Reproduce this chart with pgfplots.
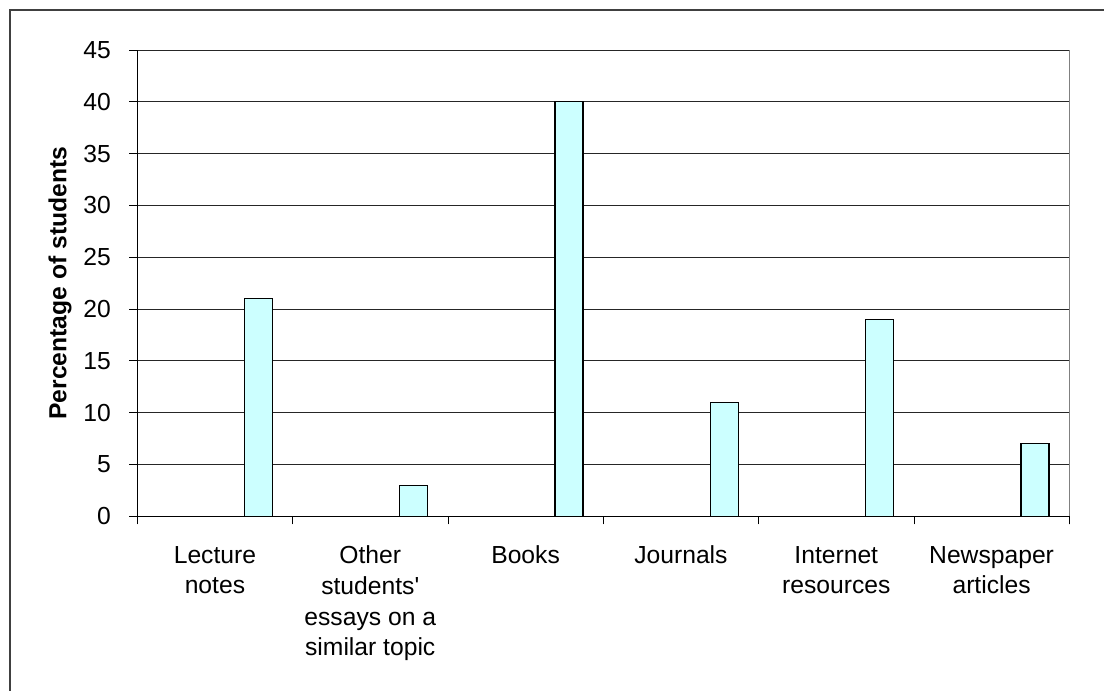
\documentclass[border=0pt]{standalone}
\usepackage{pgfplots}
\pgfplotsset{compat=1.18}
\usepackage{fontspec}
\setmainfont{Liberation Sans}
\definecolor{barfill}{HTML}{CCFFFF}
\newcommand\chartfont{\fontsize{18.5pt}{23pt}\selectfont}
\begin{document}
\chartfont
\begin{tikzpicture}
\path[use as bounding box] (0,0) rectangle (828pt,517.5pt);
\draw[black!75, line width=1.5pt] (7.5pt,-5pt) -- (7.5pt,510pt) -- (835pt,510pt);
\begin{axis}[
  at={(103pt,130.3pt)}, anchor=south west,
  width=699pt, height=349.7pt, scale only axis,
  xmin=0.5, xmax=6.5, ymin=0, ymax=45,
  axis x line=bottom, axis y line=left,
  axis line style={-, black, line width=0.9pt},
  ytick={0,5,...,45},
  ymajorgrids, major grid style={black!85, line width=0.75pt},
  xtick={0.5,1.5,...,6.5},
  xticklabels={{Lecture\\notes},{Other\\students\textquotesingle\\essays on a\\similar topic},Books,Journals,{Internet\\resources},{Newspaper\\articles},{}},
  xticklabel style={align=center, anchor=north, xshift=58.2pt, yshift=-10pt, font=\chartfont},
  yticklabel style={font=\chartfont, xshift=-7.5pt},
  tick align=outside, major tick length=6pt,
  tick style={black, line width=0.75pt},
  /pgf/number format/assume math mode=true,
  ylabel={Percentage of students},
  every axis y label/.style={at={(axis description cs:-0.083,0.5)}, rotate=90, anchor=center, font=\chartfont\bfseries},
  extra x ticks={6.5}, extra x tick labels={},
  extra x tick style={grid=major, major grid style={gray, line width=0.75pt}},
]
\addplot[ybar, bar width=21pt, bar shift=32.5pt, fill=barfill, draw=black, line width=1pt] coordinates {(1,21) (2,3) (3,40) (4,11) (5,19) (6,7)};
\end{axis}
\end{tikzpicture}
\end{document}
